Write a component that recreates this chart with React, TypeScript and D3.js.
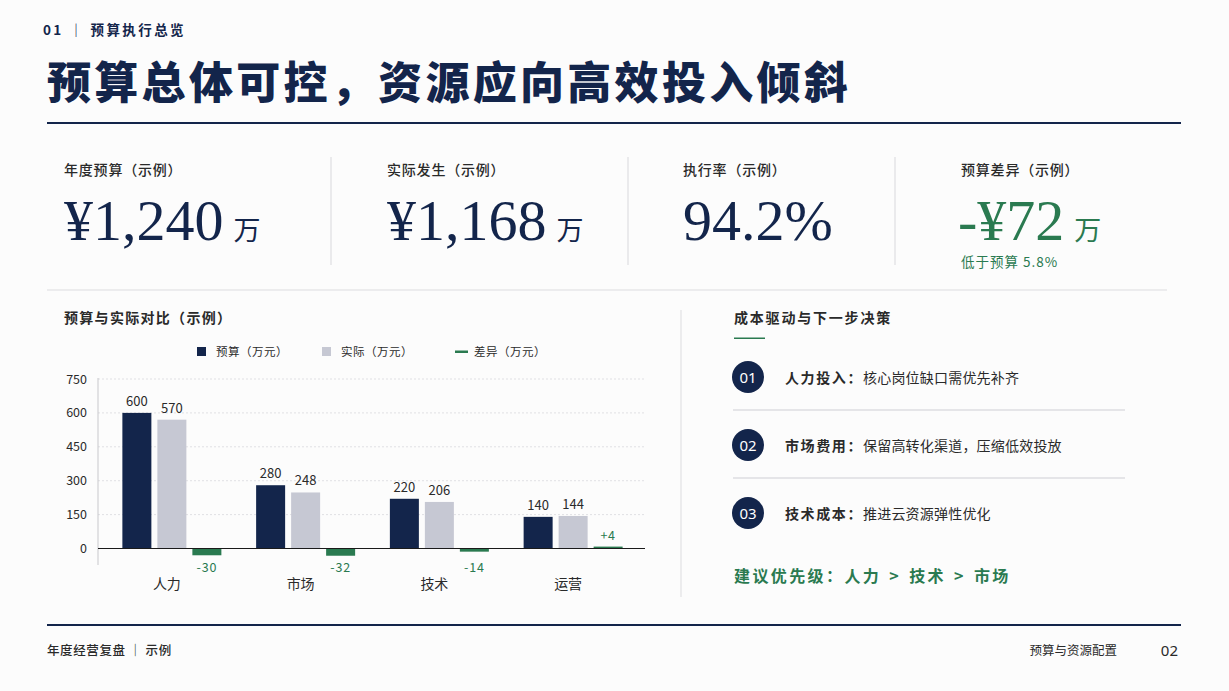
import React from "react";
import * as d3 from "d3";

const categories = ["人力", "市场", "技术", "运营"];
const budget = [600, 280, 220, 140];
const actual = [570, 248, 206, 144];
const diff = [-30, -32, -14, 4];
const yTicks = [0, 150, 300, 450, 600, 750];

const kpiLabels = ["年度预算（示例）", "实际发生（示例）", "执行率（示例）", "预算差异（示例）"];
const kpiValues = ["¥1,240", "¥1,168", "94.2%", "-¥72"];
const kpiUnits = ["万", "万", "", "万"];

const actions = [
  { no: "01", head: "人力投入：", body: "核心岗位缺口需优先补齐" },
  { no: "02", head: "市场费用：", body: "保留高转化渠道，压缩低效投放" },
  { no: "03", head: "技术成本：", body: "推进云资源弹性优化" },
];

const NAVY = "#13254b";
const GRAY = "#c6c8d3";
const GREEN = "#2a7a50";
const TEXT = "#2a2a2a";
const SANS = "'Noto Sans CJK SC', 'Noto Sans', sans-serif";
const SERIF = "'Liberation Serif', 'DejaVu Serif', serif";

export default function App() {
  const x0 = d3.scaleBand<string>().domain(categories).range([105, 640]);
  const x1 = d3.scaleBand<string>().domain(["b", "a", "d"]).range([0, 99]).paddingInner(6 / 35);
  const y = d3.scaleLinear().domain([0, 750]).range([548.5, 379]);
  const kpiX = [64, 387, 683, 961];
  const dividerX = [331, 628, 895];
  const legend = [
    { x: 197, label: "预算（万元）", type: "rect", color: NAVY },
    { x: 322, label: "实际（万元）", type: "rect", color: GRAY },
    { x: 455, label: "差异（万元）", type: "line", color: GREEN },
  ];
  const itemY = [377, 445, 513];

  return (
    <svg
      width={1229}
      height={691}
      style={{ position: "fixed", left: 0, top: 0, background: "#fcfcfc" }}
      fontFamily={SANS}
    >
      <rect width={1229} height={691} fill="#fcfcfc" />
      {/* header */}
      <text x={43} y={35} fontSize={13.5} fontWeight={700} fill={NAVY} letterSpacing={2.4}>
        01 ｜ 预算执行总览
      </text>
      <text x={47} y={99} fontSize={44} fontWeight={900} fill={NAVY} letterSpacing={3.3}>
        预算总体可控，资源应向高效投入倾斜
      </text>
      <rect x={47} y={122} width={1134} height={2} fill={NAVY} />

      {/* KPIs */}
      {dividerX.map((dx) => (
        <line key={dx} x1={dx} x2={dx} y1={157} y2={265} stroke="#d8d8dc" strokeWidth={1} />
      ))}
      {kpiLabels.map((l, i) => {
        const isDiff = i === 3;
        const col = isDiff ? GREEN : NAVY;
        return (
          <g key={l}>
            <text x={kpiX[i]} y={175} fontSize={14} fontWeight={500} fill={TEXT} letterSpacing={0.8}>
              {l}
            </text>
            <text x={kpiX[i] - (isDiff ? 3 : 0)} y={240} fontFamily={SERIF} fontSize={58} fill={col}>
              {kpiValues[i]}
              {kpiUnits[i] && (
                <tspan fontFamily={SANS} fontSize={27} dx={10} fontWeight={400}>
                  {kpiUnits[i]}
                </tspan>
              )}
            </text>
          </g>
        );
      })}
      <text x={961} y={267} fontSize={13.5} fill={GREEN} letterSpacing={1}>
        低于预算 5.8%
      </text>
      <line x1={47} x2={1167} y1={290} y2={290} stroke="#dcdcdf" strokeWidth={1} />

      {/* chart */}
      <text x={64} y={323} fontSize={14} fontWeight={700} fill={TEXT} letterSpacing={1.3}>
        预算与实际对比（示例）
      </text>
      {legend.map((lg) => (
        <g key={lg.label}>
          {lg.type === "rect" ? (
            <rect x={lg.x} y={347} width={9} height={9} fill={lg.color} />
          ) : (
            <rect x={lg.x} y={350.5} width={13} height={2.5} fill={lg.color} />
          )}
          <text x={lg.x + 19} y={356} fontSize={11.5} fill={TEXT} letterSpacing={0.5}>
            {lg.label}
          </text>
        </g>
      ))}
      {yTicks.map((t) => (
        <g key={t}>
          {t > 0 && (
            <line x1={98} x2={645} y1={y(t)} y2={y(t)} stroke="#e0e0e4" strokeDasharray="2,2" />
          )}
          <text x={87} y={y(t) + 4.5} fontSize={12.5} fill={TEXT} textAnchor="end">
            {t}
          </text>
        </g>
      ))}
      <line x1={98} x2={98} y1={378} y2={565} stroke="#c8c8cc" />
      {categories.map((c, i) => {
        const gx = x0(c)! + (x0.bandwidth() - 99) / 2;
        const bw = x1.bandwidth();
        const dv = diff[i];
        return (
          <g key={c}>
            <rect x={gx + x1("b")!} y={y(budget[i])} width={bw} height={y(0) - y(budget[i])} fill={NAVY} />
            <rect x={gx + x1("a")!} y={y(actual[i])} width={bw} height={y(0) - y(actual[i])} fill={GRAY} />
            <rect
              x={gx + x1("d")!}
              y={dv >= 0 ? y(dv) - 1 : y(0)}
              width={bw}
              height={Math.abs(y(dv) - y(0)) + (dv >= 0 ? 1 : 0)}
              fill={GREEN}
            />
            <text x={gx + x1("b")! + bw / 2} y={y(budget[i]) - 7} fontSize={13} fill={TEXT} textAnchor="middle">
              {budget[i]}
            </text>
            <text x={gx + x1("a")! + bw / 2} y={y(actual[i]) - 7} fontSize={13} fill={TEXT} textAnchor="middle">
              {actual[i]}
            </text>
            <text
              x={gx + x1("d")! + bw / 2}
              y={dv >= 0 ? y(dv) - 8 : 572}
              fontSize={12.5}
              fill={GREEN}
              textAnchor="middle"
              letterSpacing={0.8}
            >
              {dv > 0 ? `+${dv}` : `${dv}`}
            </text>
            <text x={x0(c)! + x0.bandwidth() / 2 - 5} y={589} fontSize={14} fill={TEXT} textAnchor="middle">
              {c}
            </text>
          </g>
        );
      })}
      <line x1={98} x2={645} y1={y(0)} y2={y(0)} stroke="#1a1a1a" strokeWidth={1.2} />

      {/* right panel */}
      <line x1={681} x2={681} y1={310} y2={597} stroke="#dcdcdf" />
      <text x={734} y={323} fontSize={14} fontWeight={700} fill={TEXT} letterSpacing={1.8}>
        成本驱动与下一步决策
      </text>
      <rect x={734} y={337.5} width={31} height={1.5} fill={GREEN} />
      {actions.map((a, i) => (
        <g key={a.no}>
          <circle cx={748} cy={itemY[i]} r={16} fill={NAVY} />
          <text x={748} y={itemY[i] + 5.5} fontSize={15} fill="#fff" textAnchor="middle" fontFamily="'Noto Sans', sans-serif">
            {a.no}
          </text>
          <text x={785} y={itemY[i] + 5.5} fontSize={14} fill={TEXT} letterSpacing={0.2}>
            <tspan fontWeight={700} letterSpacing={1.6}>{a.head}</tspan>
            <tspan>{a.body}</tspan>
          </text>
          {i < 2 && (
            <line x1={733} x2={1125} y1={itemY[i] + 33} y2={itemY[i] + 33} stroke="#dedee2" strokeWidth={1.5} />
          )}
        </g>
      ))}
      <text x={734} y={582} fontSize={16} fontWeight={700} fill={GREEN} letterSpacing={2.4}>
        建议优先级：人力 <tspan dx={2}>&gt;</tspan> <tspan dx={2}>技术</tspan> <tspan dx={2}>&gt;</tspan> <tspan dx={2}>市场</tspan>
      </text>

      {/* footer */}
      <rect x={47} y={624} width={1134} height={2} fill={NAVY} />
      <text x={47} y={655} fontSize={12.5} fontWeight={500} fill={TEXT} letterSpacing={0.6}>
        年度经营复盘 ｜ 示例
      </text>
      <text x={1117} y={655} fontSize={12.5} fill={TEXT} textAnchor="end">
        预算与资源配置
      </text>
      <text x={1178} y={656} fontSize={15} fill={TEXT} textAnchor="end" fontFamily="'Noto Sans', sans-serif">
        02
      </text>
    </svg>
  );
}
